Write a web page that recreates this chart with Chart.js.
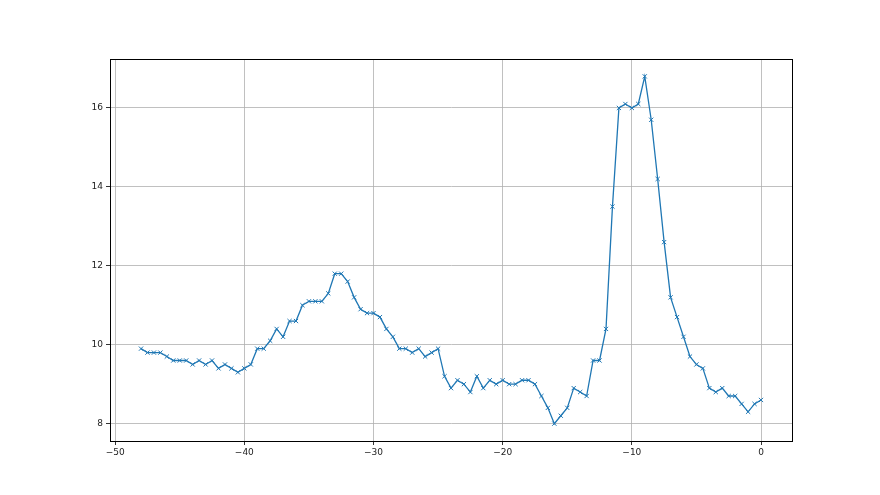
<!DOCTYPE html>
<html>
<head>
<meta charset="utf-8">
<script src="https://cdn.jsdelivr.net/npm/chart.js@4"></script>
<style>
    html, body { margin: 0; padding: 0; background: #fff; }
    #chart { display: block; }
</style>
</head>
<body>
<canvas id="chart" width="880" height="495"></canvas>
<script>
// x positions: -48 .. 0 in half steps
const xValues = [
    -48, -47.5, -47, -46.5, -46, -45.5, -45, -44.5, -44, -43.5,
    -43, -42.5, -42, -41.5, -41, -40.5, -40, -39.5, -39, -38.5,
    -38, -37.5, -37, -36.5, -36, -35.5, -35, -34.5, -34, -33.5,
    -33, -32.5, -32, -31.5, -31, -30.5, -30, -29.5, -29, -28.5,
    -28, -27.5, -27, -26.5, -26, -25.5, -25, -24.5, -24, -23.5,
    -23, -22.5, -22, -21.5, -21, -20.5, -20, -19.5, -19, -18.5,
    -18, -17.5, -17, -16.5, -16, -15.5, -15, -14.5, -14, -13.5,
    -13, -12.5, -12, -11.5, -11, -10.5, -10, -9.5, -9, -8.5,
    -8, -7.5, -7, -6.5, -6, -5.5, -5, -4.5, -4, -3.5,
    -3, -2.5, -2, -1.5, -1, -0.5, 0
];

const yValues = [
    9.9, 9.8, 9.8, 9.8, 9.7, 9.6, 9.6, 9.6, 9.5, 9.6,
    9.5, 9.6, 9.4, 9.5, 9.4, 9.3, 9.4, 9.5, 9.9, 9.9,
    10.1, 10.4, 10.2, 10.6, 10.6, 11.0, 11.1, 11.1, 11.1, 11.3,
    11.8, 11.8, 11.6, 11.2, 10.9, 10.8, 10.8, 10.7, 10.4, 10.2,
    9.9, 9.9, 9.8, 9.9, 9.7, 9.8, 9.9, 9.2, 8.9, 9.1,
    9.0, 8.8, 9.2, 8.9, 9.1, 9.0, 9.1, 9.0, 9.0, 9.1,
    9.1, 9.0, 8.7, 8.4, 8.0, 8.2, 8.4, 8.9, 8.8, 8.7,
    9.6, 9.6, 10.4, 13.5, 16.0, 16.1, 16.0, 16.1, 16.8, 15.7,
    14.2, 12.6, 11.2, 10.7, 10.2, 9.7, 9.5, 9.4, 8.9, 8.8,
    8.9, 8.7, 8.7, 8.5, 8.3, 8.5, 8.6
];

const xTicks = [-50, -40, -30, -20, -10, 0];
const yTicks = [8, 10, 12, 14, 16];

const lineColor = '#1f77b4';
const gridColor = '#b0b0b0';

const fmt = v => (v < 0 ? '\u2212' + Math.abs(v) : String(v));

// draws the top and right spines too
const frame = {
    id: 'frame',
    afterDraw(chart) {
        const { ctx, chartArea: a } = chart;
        ctx.save();
        ctx.strokeStyle = '#000';
        ctx.lineWidth = 1;
        ctx.strokeRect(a.left + 0.5, a.top + 0.5, a.right - a.left, a.bottom - a.top);
        ctx.restore();
    }
};

new Chart(document.getElementById('chart'), {
    type: 'scatter',
    data: {
        datasets: [{
            data: xValues.map((x, i) => ({ x, y: yValues[i] })),
            showLine: true,
            borderColor: lineColor,
            borderWidth: 1.3,
            pointStyle: 'crossRot',
            pointRadius: 3,
            pointBorderColor: lineColor,
            pointBorderWidth: 1,
            tension: 0,
        }],
    },
    options: {
        responsive: false,
        animation: false,
        layout: { padding: { top: 59, right: 88, left: 0, bottom: 0 } },
        plugins: {
            legend: { display: false },
            tooltip: { enabled: false },
        },
        scales: {
            x: {
                type: 'linear',
                min: -50.4,
                max: 2.4,
                afterBuildTicks: s => { s.ticks = xTicks.map(v => ({ value: v })); },
                afterFit: s => { s.height = 54; },
                grid: { color: gridColor, lineWidth: 0.8, tickColor: '#000', tickLength: 4 },
                border: { color: '#000', width: 1 },
                ticks: {
                    color: '#222',
                    font: { family: 'DejaVu Sans', size: 9 },
                    padding: 2,
                    maxRotation: 0,
                    callback: fmt,
                },
            },
            y: {
                type: 'linear',
                min: 7.56,
                max: 17.24,
                afterBuildTicks: s => { s.ticks = yTicks.map(v => ({ value: v })); },
                afterFit: s => { s.width = 110; },
                grid: { color: gridColor, lineWidth: 0.8, tickColor: '#000', tickLength: 4 },
                border: { color: '#000', width: 1 },
                ticks: {
                    color: '#222',
                    font: { family: 'DejaVu Sans', size: 9 },
                    padding: 3,
                    callback: fmt,
                },
            },
        },
    },
    plugins: [frame],
});
</script>
</body>
</html>
